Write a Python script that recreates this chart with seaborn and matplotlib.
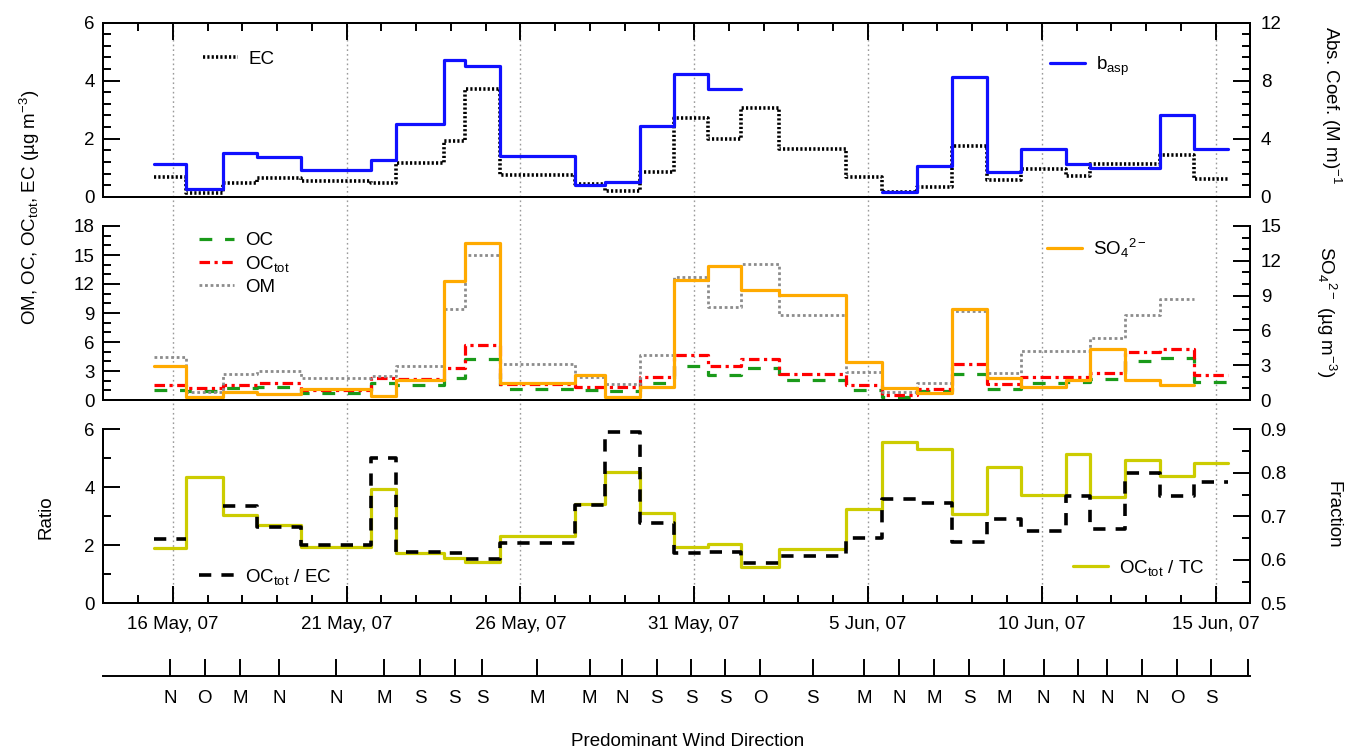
import numpy as np
import pandas as pd
import matplotlib
matplotlib.use("Agg")
import matplotlib.pyplot as plt
import matplotlib.dates as mdates
from matplotlib.lines import Line2D
from matplotlib.ticker import MultipleLocator, FixedLocator
import seaborn as sns

# ---------------- data ----------------
# sample boundaries, in day-of-May numbers (June d == 31 + d)
edges = [15.45, 16.39, 17.45, 18.42, 19.68, 21.71, 22.43, 23.80, 24.41, 25.40,
         27.56, 28.42, 29.44, 30.41, 31.41, 32.36, 33.45, 35.38, 36.39, 37.40,
         38.41, 39.42, 40.40, 41.71, 42.38, 43.39, 44.40, 45.38, 46.36]
nan = np.nan
ec = [0.69, 0.12, 0.47, 0.66, 0.53, 0.46, 1.17, 1.91, 3.71, 0.76,
      0.45, 0.21, 0.85, 2.71, 1.98, 3.05, 1.64, 0.69, 0.15, 0.34,
      1.76, 0.57, 0.94, 0.71, 1.13, 1.13, 1.44, 0.61]
b_asp = [2.25, 0.51, 3.03, 2.76, 1.82, 2.51, 5.03, 9.40, 9.03, 2.80,
         0.80, 1.03, 4.90, 8.46, 7.40, nan, nan, nan, 0.34, 2.11,
         8.23, 1.68, 3.31, 2.23, 2.00, 2.00, 5.63, 3.31]
oc = [1.03, 0.89, 1.20, 1.30, 0.75, 1.78, 1.51, 2.23, 4.29, 1.10,
      1.03, 0.96, 1.78, 3.50, 2.57, 3.26, 2.06, 1.03, 0.34, 0.90,
      2.67, 1.10, 1.78, 1.89, 2.13, 4.05, 4.39, 1.89]
oc_tot = [1.54, 1.20, 1.51, 1.75, 0.99, 2.23, 2.16, 3.36, 5.73, 1.61,
          1.37, 1.30, 2.37, 4.70, 3.53, 4.29, 2.67, 1.54, 0.51, 1.13,
          3.70, 1.66, 2.34, 2.41, 2.83, 4.93, 5.28, 2.59]
om = [4.46, 0.86, 2.74, 3.02, 2.23, 2.47, 3.50, 9.43, 15.02, 3.70,
      2.33, 1.65, 4.63, 12.68, 9.67, 14.06, 8.84, 2.91, 0.86, 1.71,
      9.19, 2.84, 5.07, 5.07, 6.40, 8.78, 10.40, nan]
so4 = [2.91, 0.29, 0.66, 0.51, 0.94, 0.37, 1.71, 10.29, 13.51, 1.49,
       2.14, 0.26, 1.14, 10.34, 11.54, 9.49, 9.06, 3.29, 1.00, 0.63,
       7.86, 1.90, 1.08, 1.72, 4.40, 1.72, 1.30, nan]
ratio_octot_ec = [2.22, nan, 3.36, 2.64, 2.01, 5.00, 1.78, 1.75, 1.53, 2.07,
                  3.39, 5.92, 2.76, 1.72, 1.78, 1.38, 1.64, 2.26, 3.59, 3.47,
                  2.13, 2.91, 2.51, 3.70, 2.56, 4.51, 3.70, 4.20]
frac_octot_tc = [0.628, 0.791, 0.702, 0.680, 0.629, 0.763, 0.616, 0.603, 0.594, 0.655,
                 0.728, 0.802, 0.707, 0.630, 0.636, 0.584, 0.625, 0.716, 0.870, 0.855,
                 0.705, 0.813, 0.749, 0.843, 0.744, 0.830, 0.793, 0.822]
wind = ['N', 'O', 'M', 'N', 'N', 'M', 'S', 'S', 'S', 'M', 'M', 'N', 'S', 'S',
        'S', 'O', 'S', 'M', 'N', 'M', 'S', 'M', 'N', 'N', 'N', 'N', 'O', 'S']
major_dates = ['2007-05-16', '2007-05-21', '2007-05-26', '2007-05-31',
               '2007-06-05', '2007-06-10', '2007-06-15']
date_labels = ['16 May, 07', '21 May, 07', '26 May, 07', '31 May, 07',
               '5 Jun, 07', '10 Jun, 07', '15 Jun, 07']
x_start, x_end = '2007-05-14', '2007-06-16'

# ---------------- style ----------------
sns.set_theme(style="ticks")
plt.rcParams['font.family'] = ['Liberation Sans', 'DejaVu Sans']
plt.rcParams['mathtext.fontset'] = 'custom'
plt.rcParams['mathtext.rm'] = 'Liberation Sans'
plt.rcParams['mathtext.it'] = 'Liberation Sans:italic'
plt.rcParams['mathtext.bf'] = 'Liberation Sans:bold'
for k in ['axes.edgecolor', 'xtick.color', 'ytick.color', 'text.color', 'axes.labelcolor']:
    plt.rcParams[k] = 'black'
plt.rcParams['axes.linewidth'] = 1.4
FS = 13.5

base = pd.Timestamp('2007-04-30')


def to_dt(days):
    return base + pd.to_timedelta(np.asarray(days, float), unit='D')


W_PX, H_PX = 1346, 751
fig = plt.figure(figsize=(W_PX / 100, H_PX / 100), dpi=100)
L_PX, R_PX = 103.3, 1250.3


def rect(top, bot):
    return [L_PX / W_PX, 1 - bot / H_PX, (R_PX - L_PX) / W_PX, (bot - top) / H_PX]


xlim = (pd.Timestamp(x_start), pd.Timestamp(x_end))
maj = [pd.Timestamp(d) for d in major_dates]

# grid overlay (vertical dotted lines across all panels)
gax = fig.add_axes(rect(22.7, 603.3), zorder=-5)
gax.axis('off')
gax.set_xlim(*xlim)
gax.set_ylim(0, 1)
for d in maj:
    gax.axvline(d, color='#9a9a9a', lw=1.0, ls=(0, (1.2, 2.2)))

ax1 = fig.add_axes(rect(22.7, 196.7))
ax2 = fig.add_axes(rect(226.0, 400.0))
ax3 = fig.add_axes(rect(429.3, 603.3))
ax1r, ax2r, ax3r = ax1.twinx(), ax2.twinx(), ax3.twinx()
for a in [ax1, ax2, ax3, ax1r, ax2r, ax3r]:
    a.set_facecolor('none')
ax3.set_zorder(ax3r.get_zorder() + 1)

xe = to_dt(edges)


def step(ax, vals, **kw):
    v = np.asarray(vals, float)
    ok = ~np.isnan(v)
    n = len(v)
    i = 0
    while i < n:
        if not ok[i]:
            i += 1
            continue
        j = i
        while j + 1 < n and ok[j + 1]:
            j += 1
        df = pd.DataFrame({'t': xe[i:j + 2], 'v': np.append(v[i:j + 1], v[j])})
        sns.lineplot(data=df, x='t', y='v', ax=ax, drawstyle='steps-post',
                     sort=False, estimator=None, legend=False, **kw)
        i = j + 1


st = {
    'ec': dict(color='black', lw=2.6, linestyle=(0, (0.6, 0.6))),
    'basp': dict(color='#1010ff', lw=2.3, linestyle='-'),
    'oc': dict(color='#1a9a1a', lw=2.3, linestyle=(0, (4, 4))),
    'octot': dict(color='#ff0000', lw=2.3, linestyle=(0, (3.3, 1.4, 1.0, 1.4))),
    'om': dict(color='#8c8c8c', lw=2.0, linestyle=(0, (1, 1))),
    'so4': dict(color='#ffaa00', lw=2.3, linestyle='-'),
    'ratio': dict(color='black', lw=2.6, linestyle=(0, (3.4, 2.8))),
    'frac': dict(color='#cccc00', lw=2.3, linestyle='-'),
}

step(ax1, ec, **st['ec'])
step(ax1r, b_asp, **st['basp'])
step(ax2, oc, **st['oc'])
step(ax2, oc_tot, **st['octot'])
step(ax2, om, **st['om'])
step(ax2r, so4, **st['so4'])
step(ax3r, frac_octot_tc, **st['frac'])
step(ax3, ratio_octot_ec, **st['ratio'])

# axes setup
ylims = {ax1: (0, 6, 2, 0.4), ax1r: (0, 12, 4, 0.8), ax2: (0, 18, 3, 1), ax2r: (0, 15, 3, 1),
         ax3: (0, 6, 2, 1), ax3r: (0.5, 0.9, 0.1, 0.05)}
for a, (lo, hi, mj, mn) in ylims.items():
    a.set_xlim(*xlim)
    a.set_ylim(lo, hi)
    a.yaxis.set_major_locator(MultipleLocator(mj))
    a.yaxis.set_minor_locator(MultipleLocator(mn))
    a.set_xlabel('')
    a.set_ylabel('')
    a.tick_params(axis='y', which='major', direction='in', length=12, width=1.4, labelsize=FS)
    a.tick_params(axis='y', which='minor', direction='in', length=6, width=1.4)
for a in [ax1, ax2, ax3]:
    a.tick_params(axis='y', pad=6)
for a in [ax1r, ax2r, ax3r]:
    a.tick_params(axis='y', pad=7.5)
ax3r.yaxis.set_major_formatter(matplotlib.ticker.FormatStrFormatter('%.1f'))

for a in [ax1, ax2, ax3]:
    a.xaxis.set_major_locator(FixedLocator(mdates.date2num(maj)))
    a.xaxis.set_minor_locator(mdates.DayLocator())
    a.tick_params(axis='x', which='major', direction='in', length=12, width=1.4, labelsize=FS, pad=9)
    a.tick_params(axis='x', which='minor', direction='in', length=6, width=1.4)

ax1.tick_params(axis='x', which='both', top=True, bottom=False, labeltop=False, labelbottom=False)
ax2.tick_params(axis='x', which='both', top=False, bottom=False, labeltop=False, labelbottom=False)
ax3.tick_params(axis='x', which='both', top=False, bottom=True, labeltop=False, labelbottom=True)
ax3.set_xticks(mdates.date2num(maj))
ax3.set_xticklabels(date_labels)

for a in [ax2, ax2r, ax3, ax3r]:
    a.spines['top'].set_visible(False)

# wind direction strip
wax = fig.add_axes([L_PX / W_PX, 1 - 675.7 / H_PX, (R_PX - L_PX) / W_PX, 0.01])
wax.set_facecolor('none')
for s in ['top', 'left', 'right']:
    wax.spines[s].set_visible(False)
wax.set_xlim(*xlim)
wax.set_yticks([])
centers = [(edges[i] + edges[i + 1]) / 2 for i in range(len(wind))]
wt = list(mdates.date2num(to_dt(centers))) + [mdates.date2num(xlim[1]) - 0.07]
wax.set_xticks(wt)
wax.set_xticklabels(wind + [''])
wax.xaxis.set_minor_locator(FixedLocator([]))
wax.tick_params(axis='x', which='major', direction='in', length=12.2, width=1.4, labelsize=FS, pad=10)

# axis titles
def ftxt(x, y, s, rot, **kw):
    fig.text(x / W_PX, 1 - y / H_PX, s, rotation=rot, ha='center', va='center', fontsize=FS, **kw)


ftxt(30, 207, 'OM, OC, OC$_{\\mathrm{tot}}$, EC (µg m$^{-3}$)', 90)
ftxt(1331, 105, 'Abs. Coef. (M m)$^{-1}$', 270)
ftxt(1326, 312, 'SO$_4$$^{2-}$ (µg m$^{-3}$)', 270)
ftxt(46, 517, 'Ratio', 90)
ftxt(1333, 515, 'Fraction', 270)
ftxt(688, 741, 'Predominant Wind Direction', 0)

# legends
def leg(keys, labels, x, y, spacing=0.3):
    hs = [Line2D([], [], **st[k]) for k in keys]
    fig.legend(hs, labels, loc='center left', bbox_to_anchor=(x / W_PX, 1 - y / H_PX),
               frameon=False, fontsize=FS, handlelength=1.85, handletextpad=0.6,
               borderpad=0, borderaxespad=0, labelspacing=spacing)


leg(['ec'], ['EC'], 203, 59)
leg(['basp'], ['b$_{\\mathrm{asp}}$'], 1050, 66)
leg(['oc', 'octot', 'om'], ['OC', 'OC$_{\\mathrm{tot}}$', 'OM'], 199, 264, spacing=0.25)
leg(['so4'], ['SO$_4$$^{2-}$'], 1047, 248)
leg(['ratio'], ['OC$_{\\mathrm{tot}}$ / EC'], 199, 577)
leg(['frac'], ['OC$_{\\mathrm{tot}}$ / TC'], 1073, 568)

fig.savefig('out.png', dpi=100)
